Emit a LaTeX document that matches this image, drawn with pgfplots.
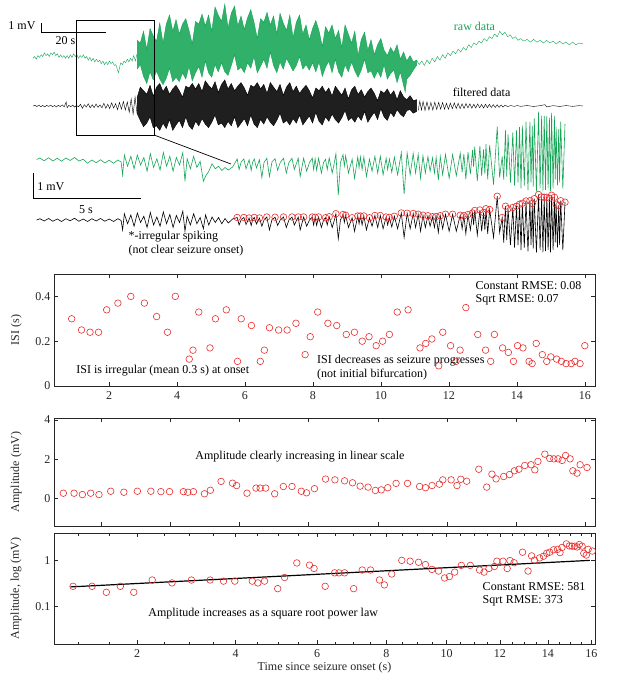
\documentclass[border=0pt]{standalone}
\usepackage{fontspec}
\setmainfont{Liberation Serif}
\usepackage{pgfplots}
\usepackage{pgfplotstable}
\pgfplotsset{compat=1.18}

\definecolor{rawgreen}{RGB}{20,165,85}
\definecolor{ptred}{RGB}{232,45,45}

\pgfplotsset{
  panel/.style={
    scale only axis, width=541bp,
    axis line style={black!85, line width=0.5bp},
    tick style={black!85, line width=0.5bp},
    major tick length=4bp, minor tick length=2.5bp,
    /pgf/number format/assume math mode=true,
    tick label style={font=\fontsize{12bp}{14bp}\selectfont, text=black!85},
    xticklabel style={yshift=-2bp},
    label style={font=\fontsize{12bp}{14bp}\selectfont, text=black!85},
    ylabel style={at={(axis description cs:-0.07,0.5)}, anchor=center},
    clip=false,
  },
  pts/.style={only marks, mark=o, mark size=3.3bp,
    mark options={line width=0.6bp}, color=ptred},
}

\begin{document}

% ---- overview traces (x in s, y in mV) ----
\pgfplotstableread{
t v
0.0 5.3
0.5 5.5
1.0 5.2
1.5 5.6
2.0 5.4
2.5 5.7
3.0 5.5
3.5 5.9
4.0 5.6
4.5 5.8
5.0 5.5
5.5 5.9
6.0 5.7
6.5 6.0
7.0 5.6
7.5 5.8
8.0 5.4
8.5 5.7
9.0 5.4
9.5 5.6
10.0 5.3
10.5 5.6
11.0 5.3
11.5 5.7
12.0 5.4
12.5 5.8
13.0 5.5
13.5 5.7
14.0 5.3
14.5 5.6
15.0 5.4
15.5 5.7
16.0 5.3
16.5 5.5
17.0 5.1
17.5 5.4
18.0 5.0
18.5 5.3
19.0 4.9
19.5 5.2
20.0 4.9
20.5 5.1
21.0 4.7
21.5 5.0
22.0 4.6
22.5 4.9
23.0 4.6
23.5 5.0
24.0 4.7
24.5 4.9
25.0 4.5
25.5 4.6
26.0 4.0
26.3 3.7
26.7 4.4
27.0 4.8
27.5 4.6
28.0 5.0
28.5 4.8
29.0 5.2
29.5 4.9
30.0 5.3
30.5 5.0
31.0 5.6
31.5 5.0
32.0 5.8
}\rawpre

\pgfplotstableread{
t v
32 7.3
33 7.0
34 8.3
35 6.3
36 8.6
37 7.8
38 7.2
39 9.2
40 7.0
41 9.1
42 10.1
43 8.3
44 9.6
45 8.0
46 9.1
47 9.7
48 8.4
49 6.9
50 9.4
51 9.1
52 10.2
53 8.9
54 10.1
55 8.3
56 11.0
57 10.1
58 9.4
59 11.3
60 8.7
61 10.3
62 11.1
63 8.9
64 10.0
65 8.5
66 9.8
67 10.7
68 9.3
69 7.5
70 9.7
71 9.3
72 10.4
73 9.0
74 10.0
75 8.0
76 10.3
77 9.2
78 8.4
79 10.1
80 7.6
81 9.3
82 10.1
83 8.0
84 9.0
85 7.35
86 8.6
87 9.5
88 8.35
89 6.6
90 8.8
91 8.1
92 9.0
93 7.5
94 8.4
95 6.5
96 9.0
97 8.0
98 7.0
99 8.3
100 5.6
101 7.4
102 8.2
103 6.2
104 7.35
105 5.7
106 6.8
107 7.5
108 6.2
109 5.6
110 6.5
111 5.9
112 6.8
113 5.2
114 6.0
115 5.0
116 5.6
117 4.9
118 5.1
118 4.5
117 4.0
116 3.4
115 3.0
114.5 1.56
114 2.3
113 3.8
112 2.6
111 4.0
110 3.6
109 3.0
108 4.6
107 3.2
106 3.9
105 3.1
104 3.9
103 3.7
102 5.2
101 4.0
100 3.2
99 3.9
98 4.9
97 3.8
96 4.6
95 3.2
94 3.8
93 5.2
92 3.7
91 5.0
90 4.3
89 3.3
88 4.9
87 3.8
86 4.8
85 4.0
84 4.6
83 4.1
82 5.5
81 4.5
80 3.9
79 4.6
78 5.3
77 4.1
76 4.9
75 3.7
74 4.5
73 6.0
72 4.2
71 5.2
70 4.4
69 3.7
68 5.5
67 4.2
66 4.8
65 3.7
64 4.3
63 4.0
62 5.7
61 4.5
60 3.4
59 3.8
58 4.8
57 3.8
56 4.6
55 3.2
54 3.7
53 5.0
52 3.2
51 4.4
50 3.7
49 2.8
48 4.4
47 3.0
46 3.7
45 2.7
44 3.2
43 2.7
42 4.2
41 3.1
40 2.37
39 3.0
38 3.9
37 2.9
36 3.8
35 2.5
34 3.3
33 4.6
32 4.1
}\rawband

\pgfplotstableread{
t v
118.0 5.1
118.8 4.6
119.6 5.0
120.4 4.5
121.2 5.1
122.0 4.7
122.8 5.3
123.6 4.9
124.4 5.5
125.2 5.1
126.0 5.7
126.8 5.3
127.6 5.9
128.4 5.6
129.2 6.1
130.0 5.8
130.8 6.3
131.6 6.0
132.4 6.5
133.2 6.2
134.0 6.8
134.8 6.5
135.6 7.0
136.4 6.8
137.2 7.2
138.0 7.0
138.8 7.5
139.6 7.2
140.4 7.7
141.2 7.5
142.0 8.0
142.8 7.7
143.6 8.3
144.4 7.9
145.2 8.2
146.0 7.7
146.8 7.9
147.6 7.5
148.4 7.7
149.2 7.3
150.0 7.5
151.0 7.2
152.0 7.4
153.0 7.1
154.0 7.4
155.0 7.1
156.0 7.3
157.0 7.0
158.0 7.3
159.0 7.0
160.0 7.2
161.0 6.9
162.0 7.2
163.0 6.9
164.0 7.1
165.0 6.8
166.0 7.1
167.0 6.8
168.0 7.0
169.2 6.9
}\rawpost

\pgfplotstableread{
t v
0.0 0.00
0.6 0.08
1.2 -0.06
1.8 0.10
2.4 -0.08
3.0 0.06
3.6 -0.10
4.2 0.08
4.8 -0.05
5.4 0.10
6.0 -0.08
6.6 0.06
7.2 -0.10
7.8 0.08
8.4 -0.06
9.0 0.12
9.6 -0.10
10.2 0.45
10.5 -0.20
11.0 0.08
11.6 -0.08
12.2 0.10
12.8 -0.12
13.4 0.08
14.0 -0.10
14.6 0.20
15.2 -0.25
15.8 0.15
16.4 -0.12
17.0 0.25
17.6 -0.20
18.2 0.15
18.8 -0.18
19.4 0.22
20.0 -0.15
20.6 0.12
21.2 -0.20
21.8 0.30
22.4 -0.25
23.0 0.20
23.6 -0.30
24.2 0.35
24.8 -0.22
25.4 0.25
26.0 -0.40
26.6 0.40
27.2 -0.35
27.8 0.50
28.4 -0.45
29.0 0.45
29.6 -0.70
30.2 0.80
30.8 -0.90
31.4 1.00
32.0 -0.80
}\filpre

\pgfplotstableread{
t v
32 0.9
33 2.1
34 1.7
35 1.3
36 2.3
37 1.1
38 2.1
39 2.5
40 1.6
41 2.2
42 1.3
43 1.9
44 2.3
45 1.7
46 1.0
47 2.2
48 2.0
49 2.5
50 1.9
51 2.5
52 1.6
53 2.8
54 2.3
55 1.9
56 2.7
57 1.5
58 2.4
59 2.9
60 1.9
61 2.5
62 1.7
63 2.2
64 2.6
65 2.0
66 1.2
67 2.3
68 2.1
69 2.6
70 1.9
71 2.4
72 1.4
73 2.6
74 2.1
75 1.6
76 2.4
77 1.2
78 2.1
79 2.6
80 1.6
81 2.2
82 1.4
83 1.9
84 2.3
85 1.7
86 0.9
87 2.0
88 1.7
89 2.2
90 1.5
91 2.0
92 1.1
93 2.2
94 1.7
95 1.2
96 2.0
97 0.8
98 1.8
99 2.2
100 1.3
101 1.8
102 1.0
103 1.6
104 2.0
105 1.4
106 0.6
107 1.7
108 1.4
109 1.9
110 1.2
111 1.7
112 0.7
113 1.7
114 1.0
115 0.7
116 1.15
117 0.6
118 0.7
118 -0.6
117 -0.8
116 -0.4
115 -0.5
114 -1.2
113 -0.9
112 -0.4
111 -1.2
110 -0.7
109 -1.6
108 -1.2
107 -0.3
106 -1.5
105 -0.7
104 -1.2
103 -1.8
102 -0.6
101 -1.6
100 -1.1
99 -1.8
98 -1.3
97 -1.6
96 -0.5
95 -1.3
94 -1.9
93 -1.5
92 -0.9
91 -1.7
90 -1.2
89 -2.1
88 -1.7
87 -0.7
86 -1.9
85 -1.1
84 -1.6
83 -2.1
82 -1.0
81 -1.9
80 -1.4
79 -2.1
78 -1.6
77 -1.9
76 -0.8
75 -1.6
74 -2.2
73 -1.8
72 -1.2
71 -2.0
70 -1.5
69 -2.4
68 -2.0
67 -1.0
66 -2.2
65 -1.4
64 -1.9
63 -2.4
62 -1.2
61 -2.2
60 -1.7
59 -2.4
58 -1.9
57 -2.1
56 -1.0
55 -1.8
54 -2.4
53 -2.0
52 -1.4
51 -2.2
50 -1.7
49 -2.6
48 -2.2
47 -1.2
46 -2.4
45 -1.6
44 -2.1
43 -2.7
42 -1.5
41 -2.5
40 -1.9
39 -2.7
38 -2.2
37 -2.4
36 -1.2
35 -1.9
34 -2.3
33 -1.6
32 -0.8
}\filband

\pgfplotstableread{
t v
118.5 -0.50
119.0 0.55
119.5 -0.45
120.0 0.50
120.6 -0.50
121.2 0.45
121.8 -0.45
122.4 0.40
123.0 -0.45
123.6 0.42
124.2 -0.38
124.8 0.40
125.4 -0.35
126.0 0.38
126.6 -0.35
127.2 0.30
127.8 -0.36
128.4 0.32
129.0 -0.30
129.6 0.35
130.2 -0.28
130.8 0.30
131.4 -0.30
132.0 0.25
132.6 -0.28
133.2 0.28
133.8 -0.22
134.4 0.25
135.0 -0.25
135.6 0.20
136.2 -0.22
136.8 0.24
137.4 -0.20
138.0 0.18
138.6 -0.22
139.2 0.20
139.8 -0.18
140.4 0.18
141.0 -0.16
141.6 0.15
142.2 -0.16
142.8 0.14
143.4 -0.15
144.0 0.12
144.6 -0.12
145.2 0.10
146.0 -0.06
147.0 0.05
148.0 -0.04
149.0 0.05
150.0 -0.04
152.0 0.05
154.0 -0.05
156.0 0.04
157.5 0.15
158.0 -0.10
160.0 0.04
162.0 -0.05
164.0 0.05
166.0 -0.04
168.0 0.04
169.2 0.00
}\filpost

% ---- zoomed traces: t (s from onset), filtered f, raw r (mV) ----
\pgfplotstableread{
t f r
-8.35 0.00 2.42
-8.20 0.05 2.48
-8.00 -0.04 2.37
-7.80 0.06 2.49
-7.60 -0.05 2.36
-7.40 0.04 2.47
-7.20 -0.06 2.35
-7.00 0.05 2.48
-6.80 -0.03 2.38
-6.60 0.07 2.50
-6.40 -0.05 2.36
-6.20 0.04 2.43
-6.00 -0.06 2.27
-5.80 0.05 2.40
-5.60 -0.04 2.29
-5.40 0.06 2.41
-5.20 -0.05 2.28
-5.00 0.04 2.39
-4.80 -0.06 2.27
-4.60 0.05 2.40
-4.45 -0.02 2.32
-4.38 -0.40 1.80
-4.30 0.25 2.60
-4.15 -0.15 2.15
-4.00 0.20 2.55
-3.85 -0.25 2.05
-3.70 0.28 2.60
-3.55 -0.10 2.20
-3.40 0.15 2.50
-3.25 -0.30 1.95
-3.10 0.30 2.65
-2.95 -0.20 2.10
-2.80 0.12 2.45
-2.65 -0.25 2.00
-2.50 0.32 2.70
-2.35 -0.15 2.15
-2.20 0.22 2.55
-2.05 -0.30 1.95
-1.90 0.18 2.50
-1.75 -0.10 2.20
-1.60 0.35 2.70
-1.50 -0.45 1.55
-1.40 0.15 2.45
-1.25 -0.20 2.05
-1.10 0.25 2.55
-0.95 -0.15 2.10
-0.80 0.10 2.35
-0.65 -0.35 1.55
-0.55 0.20 1.75
-0.40 -0.20 1.95
-0.25 0.12 2.25
-0.10 -0.10 2.05
0.05 0.10 2.15
0.20 -0.15 1.98
0.35 0.06 2.10
0.50 -0.12 2.00
0.70 0.04 2.12
0.91 0.10 2.44
1.00 -0.20 2.02
1.10 0.02 2.33
1.22 0.10 2.44
1.32 -0.18 2.05
1.46 0.08 2.41
1.56 -0.22 1.99
1.62 0.00 2.30
1.70 0.10 2.44
1.80 -0.16 2.08
1.94 0.08 2.41
2.05 -0.25 1.70
2.15 0.00 2.30
2.28 0.12 2.47
2.40 -0.40 1.74
2.52 0.02 2.33
2.66 0.11 2.45
2.78 -0.22 1.99
2.90 0.00 2.30
3.05 0.12 2.47
3.18 -0.30 1.88
3.30 0.00 2.30
3.44 0.12 2.47
3.55 -0.20 2.02
3.73 0.12 2.47
3.82 -0.40 1.74
3.98 0.12 2.47
4.12 -0.25 1.95
4.25 0.00 2.30
4.38 0.12 2.47
4.44 -0.20 2.02
4.51 0.11 2.45
4.58 -0.22 1.99
4.67 0.12 2.47
4.80 -0.30 1.88
4.90 0.00 2.30
4.99 0.09 2.43
5.07 -0.20 2.02
5.16 0.13 2.48
5.30 -0.30 1.88
5.40 0.00 2.30
5.47 0.25 2.65
5.58 -0.75 1.00
5.68 0.00 2.30
5.80 0.22 2.61
5.86 -0.10 2.16
5.92 0.19 2.57
6.05 -0.30 1.88
6.22 0.09 2.43
6.33 -0.45 1.67
6.48 0.16 2.52
6.54 -0.15 2.09
6.60 0.16 2.52
6.68 -0.20 2.02
6.76 0.16 2.52
6.88 -0.40 1.74
7.02 0.09 2.43
7.14 -0.25 1.95
7.27 0.18 2.55
7.40 -0.30 1.88
7.52 0.18 2.55
7.65 -0.35 1.81
7.79 0.12 2.47
7.86 -0.20 2.02
7.94 0.10 2.44
8.05 -0.28 1.91
8.17 0.15 2.51
8.32 -0.35 1.81
8.49 0.28 2.69
8.62 -0.70 1.04
8.76 0.27 2.68
8.90 -0.35 1.81
9.04 0.26 2.66
9.15 -0.30 1.88
9.27 0.23 2.62
9.38 -0.45 1.67
9.49 0.19 2.57
9.60 -0.30 1.88
9.72 0.17 2.54
9.82 -0.25 1.95
9.93 0.13 2.48
10.02 -0.30 1.88
10.10 0.14 2.50
10.20 -0.50 1.60
10.29 0.17 2.54
10.40 -0.35 1.81
10.53 0.23 2.62
10.70 -0.45 1.67
10.86 0.23 2.62
11.03 -0.45 1.77
11.21 0.19 2.67
11.30 -0.35 1.91
11.38 0.17 2.64
11.47 -0.55 1.63
11.57 0.22 2.71
11.68 -0.40 1.84
11.78 0.28 2.79
11.83 -0.20 2.12
11.88 0.38 2.93
12.00 -0.60 1.56
12.12 0.40 2.96
12.20 -0.45 1.77
12.29 0.30 2.82
12.35 -0.40 1.84
12.40 0.45 3.03
12.48 -0.55 1.63
12.57 0.42 2.99
12.75 -0.70 1.42
12.92 0.95 3.73
13.03 -0.50 1.70
13.15 0.10 2.54
13.22 -0.90 1.62
13.30 0.55 3.58
13.36 -0.80 1.74
13.42 0.45 3.42
13.53 -1.00 1.50
13.64 0.50 3.50
13.72 -1.10 1.38
13.81 0.55 3.58
13.88 -1.00 1.50
13.95 0.63 3.71
14.02 -1.20 1.26
14.08 0.67 3.77
14.17 -1.10 1.38
14.25 0.76 3.92
14.34 -1.25 1.20
14.43 0.77 3.93
14.48 -1.00 1.50
14.54 0.66 3.76
14.58 -1.15 1.32
14.63 0.85 4.06
14.73 -1.30 1.14
14.83 1.02 4.33
14.90 -1.20 1.26
14.97 0.92 4.17
15.03 -1.30 1.14
15.09 0.91 4.16
15.15 -1.25 1.20
15.21 0.91 4.16
15.27 -1.20 1.26
15.33 0.87 4.09
15.38 -1.30 1.14
15.43 0.99 4.28
15.50 -1.20 1.26
15.56 0.91 4.16
15.60 -0.90 1.62
15.64 0.63 3.71
15.70 -1.10 1.38
15.76 0.58 3.63
15.80 -1.00 1.50
15.85 0.77 3.93
15.95 -1.20 1.26
16.05 0.71 3.84
}\zoomtab

\pgfplotstableread{
t h
0.91 0.10
1.22 0.10
1.46 0.08
1.70 0.10
1.94 0.08
2.28 0.12
2.66 0.11
3.05 0.12
3.44 0.12
3.73 0.12
3.98 0.12
4.38 0.12
4.51 0.11
4.67 0.12
4.99 0.09
5.16 0.13
5.47 0.25
5.80 0.22
5.92 0.19
6.22 0.09
6.48 0.16
6.60 0.16
6.76 0.16
7.02 0.09
7.27 0.18
7.52 0.18
7.79 0.12
7.94 0.10
8.17 0.15
8.49 0.28
8.76 0.27
9.04 0.26
9.27 0.23
9.49 0.19
9.72 0.17
9.93 0.13
10.10 0.14
10.29 0.17
10.53 0.23
10.86 0.23
11.21 0.19
11.38 0.17
11.57 0.22
11.78 0.28
11.88 0.38
12.12 0.40
12.29 0.30
12.40 0.45
12.57 0.42
12.92 0.95
13.15 0.10
13.30 0.55
13.42 0.45
13.64 0.50
13.81 0.55
13.95 0.63
14.08 0.67
14.25 0.76
14.43 0.77
14.54 0.66
14.63 0.85
14.83 1.02
14.97 0.92
15.09 0.91
15.21 0.91
15.33 0.87
15.43 0.99
15.56 0.91
15.64 0.63
15.76 0.58
15.85 0.77
16.05 0.71
}\peaks

% ---- panel data ----
\pgfplotstableread{
t isi
0.90 0.30
1.19 0.25
1.44 0.24
1.69 0.24
1.93 0.34
2.26 0.37
2.64 0.40
3.04 0.37
3.40 0.31
3.72 0.24
3.95 0.40
4.36 0.12
4.47 0.16
4.64 0.33
4.97 0.17
5.13 0.30
5.45 0.34
5.78 0.11
5.89 0.30
6.19 0.27
6.45 0.11
6.57 0.16
6.72 0.26
6.99 0.25
7.24 0.25
7.50 0.28
7.77 0.14
7.92 0.22
8.14 0.33
8.44 0.28
8.70 0.27
8.98 0.23
9.22 0.24
9.45 0.20
9.65 0.22
9.86 0.18
10.05 0.20
10.25 0.23
10.48 0.33
10.80 0.34
11.15 0.17
11.32 0.19
11.50 0.21
11.70 0.09
11.82 0.24
12.05 0.18
12.21 0.11
12.33 0.16
12.50 0.35
12.85 0.23
13.08 0.16
13.23 0.11
13.34 0.23
13.58 0.17
13.75 0.15
13.90 0.11
14.02 0.18
14.18 0.17
14.36 0.11
14.45 0.10
14.57 0.19
14.75 0.14
14.88 0.11
15.00 0.13
15.17 0.12
15.31 0.11
15.45 0.10
15.60 0.10
15.71 0.11
15.86 0.10
16.00 0.18
}\isitab

\pgfplotstableread{
t amp
0.91 0.27
1.22 0.27
1.46 0.20
1.70 0.27
1.94 0.20
2.28 0.37
2.66 0.32
3.05 0.37
3.44 0.37
3.73 0.35
3.98 0.35
4.38 0.35
4.51 0.32
4.67 0.35
4.99 0.24
5.16 0.42
5.47 0.87
5.80 0.78
5.92 0.66
6.22 0.27
6.48 0.53
6.60 0.53
6.76 0.53
7.02 0.24
7.27 0.61
7.52 0.61
7.79 0.37
7.94 0.29
8.17 0.50
8.49 0.99
8.76 0.95
9.04 0.90
9.27 0.80
9.49 0.63
9.72 0.58
9.93 0.41
10.10 0.44
10.29 0.55
10.53 0.77
10.86 0.77
11.21 0.61
11.38 0.55
11.57 0.66
11.78 0.73
11.88 0.95
12.12 0.95
12.29 0.66
12.40 0.98
12.57 0.88
12.92 1.49
13.15 0.58
13.30 1.24
13.42 1.00
13.64 1.12
13.81 1.22
13.95 1.41
14.08 1.49
14.25 1.68
14.43 1.72
14.54 1.46
14.63 1.89
14.83 2.26
14.97 2.04
15.09 2.02
15.21 2.02
15.33 1.94
15.43 2.19
15.56 2.02
15.64 1.41
15.76 1.29
15.85 1.72
16.05 1.58
}\amptab

\begin{tikzpicture}[font=\fontsize{12bp}{14bp}\selectfont]
\path[use as bounding box] (0,0) rectangle (617bp,684bp);

% overview
\begin{axis}[at={(33bp,684bp)}, anchor=north west, scale only axis,
    width=550bp, height=135bp, xmin=0, xmax=169.2, ymin=-3.22, ymax=11.78,
    hide axis, clip=false]
  \addplot[rawgreen, line width=0.4bp] table {\rawpre};
  \addplot[fill=rawgreen!88, draw=rawgreen, line width=0.4bp] table {\rawband};
  \addplot[rawgreen, line width=0.4bp] table {\rawpost};
  \addplot[black, line width=0.4bp] table {\filpre};
  \addplot[fill=black!88, draw=black, line width=0.4bp] table {\filband};
  \addplot[black, line width=0.4bp] table {\filpost};
  \draw[line width=0.7bp] (axis cs:13.23,9.56) rectangle (axis cs:37.23,-3.22);
  \draw[line width=0.7bp] (axis cs:2.46,9.22) -- (axis cs:2.46,8.22) -- (axis cs:22.46,8.22);
  \node[anchor=east] at (axis cs:1.85,8.9) {1 mV};
  \node at (axis cs:10,7.3) {20 s};
  \node[text=rawgreen] at (axis cs:135.8,8.9) {raw data};
  \node at (axis cs:138,1.56) {filtered data};
  \coordinate (rc) at (axis cs:37.23,-3.22);
\end{axis}

% zoom of the onset
\begin{axis}[at={(36bp,574bp)}, anchor=north west, scale only axis,
    width=529bp, height=150bp, xmin=-8.38, xmax=16.05, ymin=-1.6, ymax=4.4,
    hide axis, clip=false]
  \addplot[rawgreen, line width=0.6bp] table[x=t, y=r] {\zoomtab};
  \addplot[black, line width=0.6bp] table[x=t, y=f] {\zoomtab};
  \addplot[pts] table {\peaks};
  \draw[line width=0.7bp] (axis cs:-8.52,1.88) -- (axis cs:-8.52,0.88) -- (axis cs:-3.52,0.88);
  \node[anchor=west] at (axis cs:-8.48,1.32) {1 mV};
  \node at (axis cs:-6.07,0.4) {5 s};
  \node[anchor=west, align=left] at (axis cs:-4.27,-0.96)
    {*-irregular spiking\\(not clear seizure onset)};
  \coordinate (zc) at (axis cs:0.62,2.24);
\end{axis}
\draw[line width=0.7bp] (rc) -- (zc);

% ISI
\begin{axis}[panel, at={(54bp,298bp)}, anchor=south west, height=112bp,
    xmin=0.38, xmax=16.3, ymin=0, ymax=0.5,
    xtick={2,4,6,8,10,12,14,16}, ytick={0,0.2,0.4},
    ylabel={ISI (s)}]
  \addplot[pts] table {\isitab};
  \node[anchor=west] at (axis description cs:0.773,0.893) {Constant RMSE: 0.08};
  \node[anchor=west] at (axis description cs:0.773,0.768) {Sqrt RMSE: 0.07};
  \node[anchor=west] at (axis description cs:0.035,0.134) {ISI is irregular (mean 0.3 s) at onset};
  \node[anchor=west] at (axis description cs:0.480,0.223) {ISI decreases as seizure progresses};
  \node[anchor=west] at (axis description cs:0.480,0.098) {(not initial bifurcation)};
\end{axis}

% amplitude, linear
\begin{axis}[panel, at={(54bp,158bp)}, anchor=south west, height=108bp,
    xmin=0.64, xmax=16.28, ymin=-1.4, ymax=4.1,
    xtick={2,4,6,8,10,12,14,16}, xticklabels={}, ytick={0,2,4},
    ylabel={Amplitude (mV)}]
  \addplot[pts] table {\amptab};
  \node[anchor=west] at (axis description cs:0.255,0.639) {Amplitude clearly increasing in linear scale};
\end{axis}

% amplitude, log
\begin{axis}[panel, at={(54bp,40bp)}, anchor=south west, height=111bp,
    ymode=log, xmin=0.614, xmax=16.18, ymin=0.015, ymax=3.9,
    x coord trafo/.code={\pgfmathparse{ln(#1+6.5)}},
    x coord inv trafo/.code={\pgfmathparse{exp(#1)-6.5}},
    xtick={2,4,6,8,10,12,14,16}, xticklabels={2,4,6,8,10,12,14,16},
    minor xtick={1,1.5,2.5,3,3.5,4.5,5,5.5,6.5,7,7.5,8.5,9,9.5,10.5,11,11.5,12.5,13,13.5,14.5,15,15.5},
    ytick={0.1,1}, yticklabels={0.1,1}, yminorticks=false,
    xlabel={Time since seizure onset (s)},
    xlabel style={at={(axis description cs:0.5,-0.216)}, anchor=center},
    ylabel={Amplitude, log (mV)}]
  \addplot[pts] table {\amptab};
  \addplot[black, line width=1.2bp] coordinates {(0.87,0.262) (15.93,0.99)};
  \node[anchor=west] at (axis description cs:0.168,0.270) {Amplitude increases as a square root power law};
  \node[anchor=west] at (axis description cs:0.786,0.514) {Constant RMSE: 581};
  \node[anchor=west] at (axis description cs:0.786,0.387) {Sqrt RMSE: 373};
\end{axis}
\end{tikzpicture}
\end{document}
